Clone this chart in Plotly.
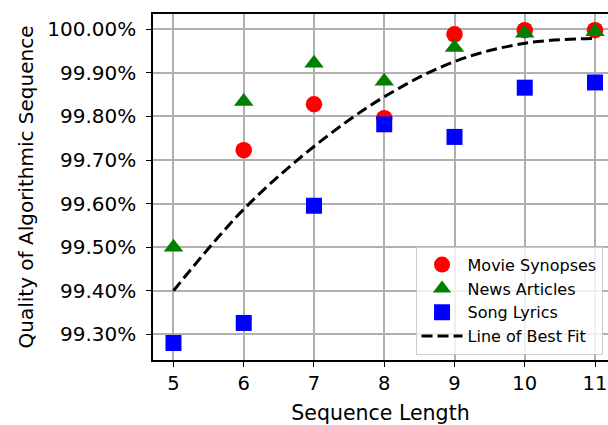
import plotly.graph_objects as go

seq_len = [5, 6, 7, 8, 9, 10, 11]
movie_x = [6, 7, 8, 9, 10, 11]
movie_synopses = [99.7225, 99.828, 99.796, 99.9885, 99.998, 99.998]
news_articles = [99.50, 99.834, 99.922, 99.881, 99.958, 99.991, 99.9945]
song_lyrics = [99.280, 99.326, 99.595, 99.782, 99.753, 99.866, 99.878]
best_fit = [99.400, 99.587, 99.731, 99.845, 99.926, 99.968, 99.979]

y_tickvals = [99.3, 99.4, 99.5, 99.6, 99.7, 99.8, 99.9, 100.0]
y_ticktext = ["99.30%", "99.40%", "99.50%", "99.60%", "99.70%", "99.80%", "99.90%", "100.00%"]
x_tickvals = [5, 6, 7, 8, 9, 10, 11]

FONT = "DejaVu Sans"

fig = go.Figure()
fig.add_trace(go.Scatter(x=movie_x, y=movie_synopses, mode="markers", name="Movie Synopses",
                         marker=dict(symbol="circle", size=16.5, color="#ff0000", line=dict(width=0))))
fig.add_trace(go.Scatter(x=seq_len, y=news_articles, mode="markers", name="News Articles",
                         marker=dict(symbol="triangle-up", size=17, color="#008000", line=dict(width=0))))
fig.add_trace(go.Scatter(x=seq_len, y=song_lyrics, mode="markers", name="Song Lyrics",
                         marker=dict(symbol="square", size=16, color="#0000ff", line=dict(width=0))))
fig.add_trace(go.Scatter(x=seq_len, y=best_fit, mode="lines", name="Line of Best Fit",
                         line=dict(color="black", width=3, dash="11px,5px", shape="spline", smoothing=1.0)))

fig.update_layout(
    width=608, height=425,
    margin=dict(l=153, r=0, t=14, b=65, autoexpand=False),
    paper_bgcolor="white", plot_bgcolor="white",
    font=dict(family=FONT, size=20, color="black"),
    showlegend=True,
    legend=dict(x=0.577, y=0.3275, xanchor="left", yanchor="top",
                bgcolor="rgba(255,255,255,0.8)", bordercolor="#cccccc", borderwidth=1,
                font=dict(family=FONT, size=16, color="black"),
                tracegroupgap=0, itemsizing="trace", itemwidth=41),
)
fig.update_xaxes(range=[4.7085, 11.185], tickvals=x_tickvals, ticks="outside", ticklen=5,
                 tickwidth=1.3, tickcolor="black", showline=True, linecolor="black", linewidth=1.5,
                 mirror=True, showgrid=True, gridcolor="#b0b0b0", gridwidth=1.5, zeroline=False,
                 ticklabeloverflow="allow",
                 title=dict(text="Sequence Length", font=dict(size=20.5), standoff=16),
                 tickfont=dict(size=19.5))
fig.update_yaxes(range=[99.241, 100.0351], tickvals=y_tickvals, ticktext=y_ticktext, ticks="outside",
                 ticklen=5, tickwidth=1.3, tickcolor="black", showline=True, linecolor="black",
                 linewidth=1.5, mirror=False, showgrid=True, gridcolor="#b0b0b0", gridwidth=1.5,
                 zeroline=False, ticklabelstandoff=6,
                 title=dict(text="Quality of Algorithmic Sequence", font=dict(size=20), standoff=8),
                 tickfont=dict(size=20))

fig.write_html("out.html", config={"displayModeBar": False},
               post_script="document.body.style.margin='0';document.body.style.overflow='hidden';")
